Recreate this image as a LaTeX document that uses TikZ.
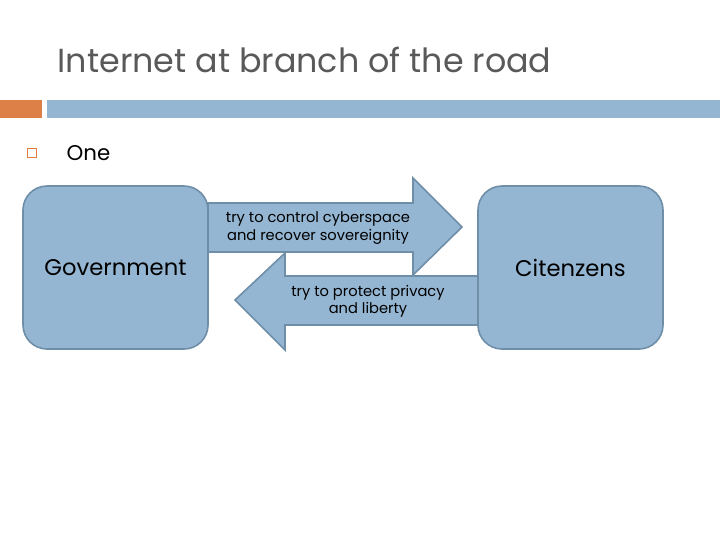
\documentclass[tikz,border=0pt]{standalone}
\usepackage{fontspec}
\setmainfont{Poppins}
\definecolor{fillb}{HTML}{94B6D2}
\definecolor{edgeb}{HTML}{6F8EA8}
\definecolor{orng}{HTML}{DD8047}
\definecolor{ttl}{HTML}{595959}
\begin{document}
\begin{tikzpicture}[x=0.75pt,y=-0.75pt,
  box/.style={draw=edgeb,fill=fillb,line width=1.2pt,rounded corners=18pt},
  arr/.style={draw=edgeb,fill=fillb,line width=1.2pt},
  lbl/.style={font=\fontsize{11}{13}\selectfont,align=center,text=black}]
\useasboundingbox (0,0) rectangle (720,540);
\fill[orng] (0,100) rectangle (42,118);
\fill[fillb] (47,100) rectangle (720,118);
\node[anchor=base west,text=ttl,font=\fontsize{25}{30}\selectfont] (title) at (53,72) {Internet at branch of the road};
\node[draw=orng,line width=0.6pt,minimum size=7pt,inner sep=0pt] (bul) at (32,153) {};
\node[anchor=base west,font=\fontsize{16}{19}\selectfont] (one) at (62,160) {One};
\draw[arr] (208,203) -- (413,203) -- (413,178) -- (462,227) -- (413,275) -- (413,252) -- (208,252) -- cycle;
\draw[arr] (478,276) -- (285,276) -- (285,253) -- (235,300) -- (285,350) -- (285,325) -- (478,325) -- cycle;
\node[box,minimum width=185*0.75pt,minimum height=163*0.75pt] (gov) at (115.5,267.5) {};
\node[box,minimum width=185*0.75pt,minimum height=163*0.75pt] (cit) at (570.5,267.5) {};
\node[font=\fontsize{17}{20}\selectfont] at (gov) {Government};
\node[font=\fontsize{17}{20}\selectfont] at (cit) {Citenzens};
\node[lbl] (l1) at (318,228) {try to control cyberspace\\and recover sovereignity};
\node[lbl] (l2) at (368,301) {try to protect privacy\\and liberty};
\end{tikzpicture}
\end{document}
